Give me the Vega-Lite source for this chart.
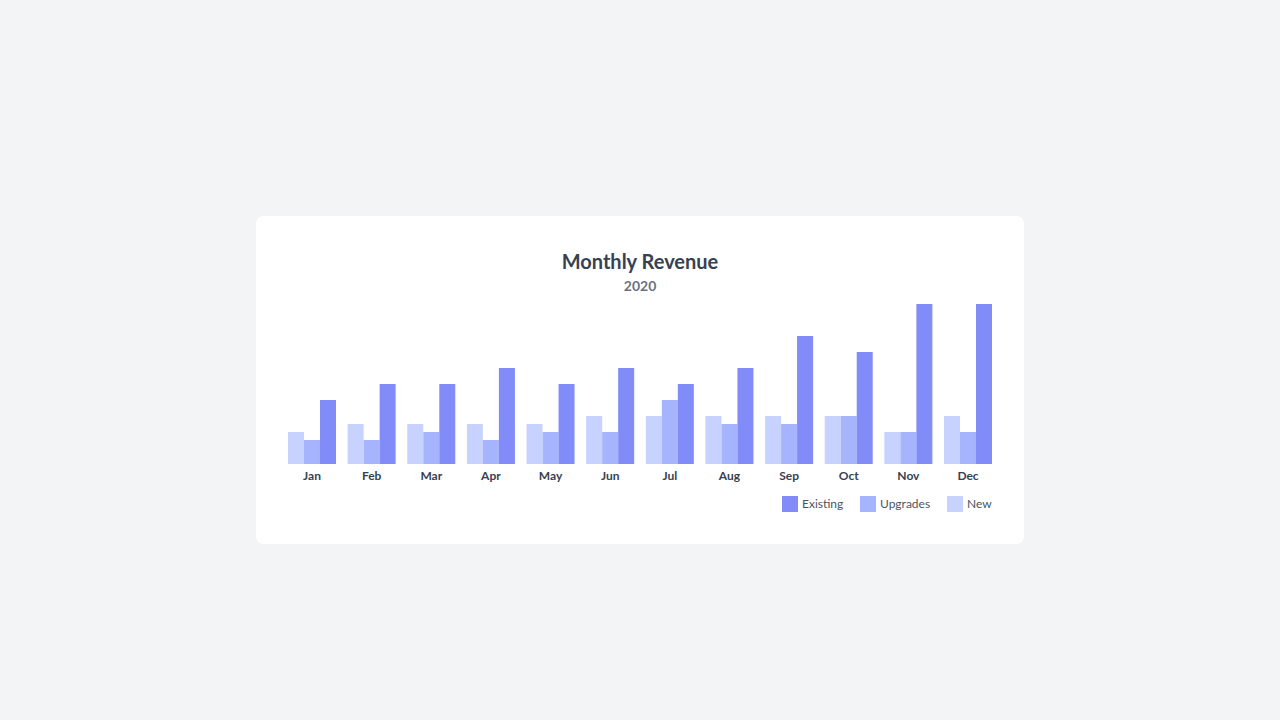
{
  "$schema": "https://vega.github.io/schema/vega-lite/v6.json",
  "width": 768,
  "height": 328,
  "autosize": {"type": "none"},
  "padding": {"left": 256, "top": 216, "right": 256, "bottom": 176},
  "background": "#f3f4f6",
  "config": {
    "view": {"fill": "#ffffff", "stroke": null, "cornerRadius": 8},
    "font": "Lato"
  },
  "title": {
    "text": "Monthly Revenue",
    "subtitle": "2020",
    "anchor": "middle",
    "offset": -78,
    "fontSize": 20,
    "fontWeight": "bold",
    "color": "#374151",
    "subtitleFontSize": 14,
    "subtitleFontWeight": "bold",
    "subtitleColor": "#6b7280",
    "subtitlePadding": 7
  },
  "data": {
    "values": [
      {"month": "Jan", "type": "New", "value": 4}, {"month": "Jan", "type": "Upgrades", "value": 3}, {"month": "Jan", "type": "Existing", "value": 8},
      {"month": "Feb", "type": "New", "value": 5}, {"month": "Feb", "type": "Upgrades", "value": 3}, {"month": "Feb", "type": "Existing", "value": 10},
      {"month": "Mar", "type": "New", "value": 5}, {"month": "Mar", "type": "Upgrades", "value": 4}, {"month": "Mar", "type": "Existing", "value": 10},
      {"month": "Apr", "type": "New", "value": 5}, {"month": "Apr", "type": "Upgrades", "value": 3}, {"month": "Apr", "type": "Existing", "value": 12},
      {"month": "May", "type": "New", "value": 5}, {"month": "May", "type": "Upgrades", "value": 4}, {"month": "May", "type": "Existing", "value": 10},
      {"month": "Jun", "type": "New", "value": 6}, {"month": "Jun", "type": "Upgrades", "value": 4}, {"month": "Jun", "type": "Existing", "value": 12},
      {"month": "Jul", "type": "New", "value": 6}, {"month": "Jul", "type": "Upgrades", "value": 8}, {"month": "Jul", "type": "Existing", "value": 10},
      {"month": "Aug", "type": "New", "value": 6}, {"month": "Aug", "type": "Upgrades", "value": 5}, {"month": "Aug", "type": "Existing", "value": 12},
      {"month": "Sep", "type": "New", "value": 6}, {"month": "Sep", "type": "Upgrades", "value": 5}, {"month": "Sep", "type": "Existing", "value": 16},
      {"month": "Oct", "type": "New", "value": 6}, {"month": "Oct", "type": "Upgrades", "value": 6}, {"month": "Oct", "type": "Existing", "value": 14},
      {"month": "Nov", "type": "New", "value": 4}, {"month": "Nov", "type": "Upgrades", "value": 4}, {"month": "Nov", "type": "Existing", "value": 20},
      {"month": "Dec", "type": "New", "value": 6}, {"month": "Dec", "type": "Upgrades", "value": 4}, {"month": "Dec", "type": "Existing", "value": 20}
    ]
  },
  "layer": [
    {
      "mark": {"type": "bar"},
      "encoding": {
        "x": {
          "field": "month",
          "type": "nominal",
          "sort": ["Jan", "Feb", "Mar", "Apr", "May", "Jun", "Jul", "Aug", "Sep", "Oct", "Nov", "Dec"],
          "scale": {"paddingInner": 0.195, "paddingOuter": 0.5365},
          "axis": null
        },
        "xOffset": {
          "field": "type",
          "type": "nominal",
          "sort": ["New", "Upgrades", "Existing"],
          "scale": {"paddingInner": 0, "paddingOuter": 0}
        },
        "y": {
          "field": "value",
          "type": "quantitative",
          "scale": {"domain": [-10, 31], "nice": false, "zero": false},
          "axis": null
        },
        "color": {
          "field": "type",
          "type": "nominal",
          "scale": {"domain": ["Existing", "Upgrades", "New"], "range": ["#818cf8", "#a5b4fc", "#c7d2fe"]},
          "legend": {
            "orient": "bottom-right",
            "offset": 32,
            "direction": "horizontal",
            "title": null,
            "symbolType": "square",
            "symbolSize": 256,
            "symbolStrokeWidth": 0,
            "symbolOpacity": 1,
            "labelFontSize": 12,
            "labelColor": "#4b5563",
            "columnPadding": 16,
            "labelOffset": 4,
            "padding": 0
          }
        }
      }
    },
    {
      "transform": [{"filter": "datum.type === 'Existing'"}],
      "mark": {"type": "text", "fontWeight": "bold", "fontSize": 12, "color": "#374151", "baseline": "middle"},
      "encoding": {
        "x": {
          "field": "month",
          "type": "nominal",
          "sort": ["Jan", "Feb", "Mar", "Apr", "May", "Jun", "Jul", "Aug", "Sep", "Oct", "Nov", "Dec"]
        },
        "y": {"datum": -1.5},
        "text": {"field": "month"}
      }
    }
  ]
}
